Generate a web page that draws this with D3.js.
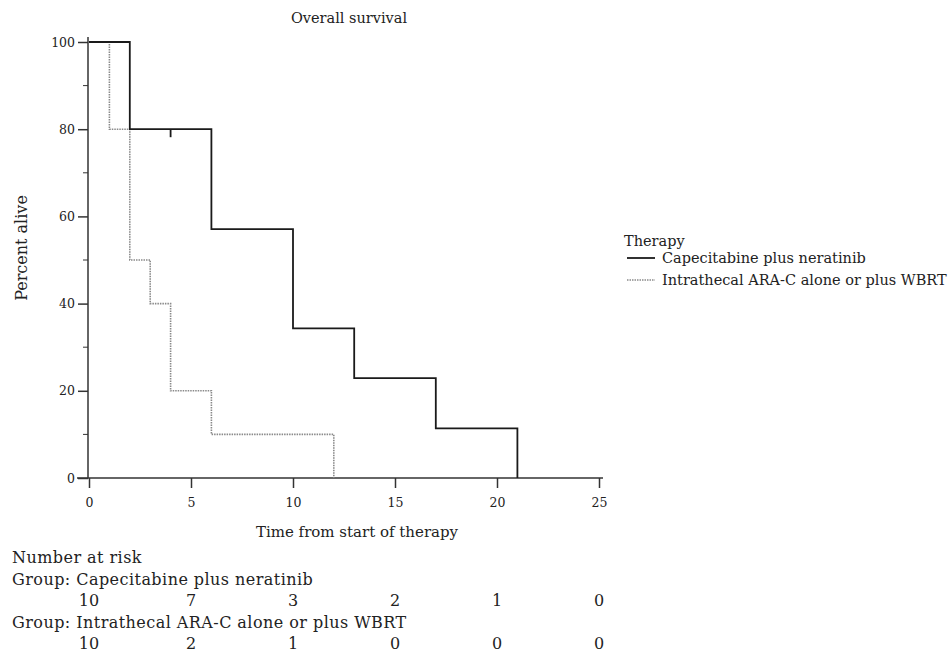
<!DOCTYPE html>
<html>
<head>
<meta charset="utf-8">
<script src="https://cdn.jsdelivr.net/npm/d3@7"></script>
<style>
  body { margin: 0; background: #fff; }
  svg text { font-family: "DejaVu Serif", "Liberation Serif", serif; fill: #222; }
</style>
</head>
<body>
<div class="km-chart-container"></div>
<script>
// Overall survival - Kaplan-Meier
var groups = ["Capecitabine plus neratinib", "Intrathecal ARA-C alone or plus WBRT"];

// step points: time, percent alive
var timesCap = [0, 2, 6, 10, 13, 17, 21];
var survCap = [100, 80, 57.1, 34.3, 22.9, 11.4, 0];
var censorCap = [{ t: 4, s: 80 }];

var timesIT = [0, 1, 2, 3, 4, 6, 12];
var survIT = [100, 80, 50, 40, 20, 10, 0];

var xTicks = [0, 5, 10, 15, 20, 25];
var yTicks = [0, 20, 40, 60, 80, 100];
var yMinor = [10, 30, 50, 70, 90];

var riskCap = [10, 7, 3, 2, 1, 0];
var riskIT = [10, 2, 1, 0, 0, 0];

var W = 950, H = 654;
var margin = { top: 42, left: 89 },
    widthKM = 510,
    heightKM = 436;

var svg = d3.select('.km-chart-container')
    .append('svg')
    .attr("width", W)
    .attr("height", H);

var g = svg.append("g")
    .attr("transform", "translate(" + margin.left + "," + margin.top + ")");

var x = d3.scaleLinear()
    .domain([0, 25])
    .range([0, widthKM]);

var y = d3.scaleLinear()
    .domain([0, 100])
    .range([heightKM, 0]);

// y axis
var yAxis = d3.axisLeft(y)
    .tickValues(yTicks)
    .tickSize(10)
    .tickPadding(3)
    .tickFormat(d3.format("d"));

var gy = g.append("g")
    .attr("transform", "translate(-1,0)")
    .call(yAxis);
gy.select(".domain").attr("d", "M0," + (heightKM) + "V-5");
gy.selectAll(".tick text").style("font-size", "12.5px");

gy.selectAll(".minor")
    .data(yMinor)
    .enter().append("line")
    .attr("class", "minor")
    .attr("x1", -5).attr("x2", 0)
    .attr("y1", function(d) { return y(d); })
    .attr("y2", function(d) { return y(d); })
    .attr("stroke", "#333");

// x axis
var xAxis = d3.axisBottom(x)
    .tickValues(xTicks)
    .tickSize(10)
    .tickPadding(10)
    .tickFormat(d3.format("d"));

var gx = g.append("g")
    .attr("transform", "translate(0," + heightKM + ")")
    .call(xAxis);
gx.select(".domain").attr("d", "M-12,0H" + (widthKM + 4));
gx.selectAll(".tick text").style("font-size", "12.5px");

svg.selectAll(".domain, .tick line").attr("stroke", "#333").attr("stroke-width", 1.5);

// curves
var line = d3.line()
    .x(function(d) { return x(d[0]); })
    .y(function(d) { return y(d[1]); })
    .curve(d3.curveStepAfter);

function pts(times, surv) {
    return times.map(function(t, i) { return [t, surv[i]]; });
}

g.append("path")
    .datum(pts(timesIT, survIT))
    .attr("d", line)
    .attr("fill", "none")
    .attr("stroke", "#8a8a8a")
    .attr("stroke-width", 1.6)
    .attr("stroke-dasharray", "1.5,1");

g.append("path")
    .datum(pts(timesCap, survCap))
    .attr("d", line)
    .attr("fill", "none")
    .attr("stroke", "#1a1a1a")
    .attr("stroke-width", 1.8);

g.selectAll(".censor")
    .data(censorCap)
    .enter().append("line")
    .attr("class", "censor")
    .attr("x1", function(d) { return x(d.t); })
    .attr("x2", function(d) { return x(d.t); })
    .attr("y1", function(d) { return y(d.s); })
    .attr("y2", function(d) { return y(d.s) + 8; })
    .attr("stroke", "#1a1a1a")
    .attr("stroke-width", 1.8);

// titles
svg.append("text")
    .attr("x", 349).attr("y", 23)
    .attr("text-anchor", "middle")
    .style("font-size", "14.5px")
    .text("Overall survival");

svg.append("text")
    .attr("transform", "translate(27,248) rotate(-90)")
    .attr("text-anchor", "middle")
    .style("font-size", "16px")
    .text("Percent alive");

svg.append("text")
    .attr("x", 357).attr("y", 537)
    .attr("text-anchor", "middle")
    .style("font-size", "15px")
    .text("Time from start of therapy");

// legend
var legend = svg.append("g").attr("transform", "translate(624,0)");
legend.append("text")
    .attr("x", 0).attr("y", 246)
    .style("font-size", "14.5px")
    .text("Therapy");

var legStyles = [
    { stroke: "#1a1a1a", dash: null, w: 1.8 },
    { stroke: "#8a8a8a", dash: "1.5,1", w: 1.6 }
];
groups.forEach(function(name, i) {
    var yy = 258 + i * 22;
    legend.append("line")
        .attr("x1", 3).attr("x2", 31)
        .attr("y1", yy).attr("y2", yy)
        .attr("stroke", legStyles[i].stroke)
        .attr("stroke-width", legStyles[i].w)
        .attr("stroke-dasharray", legStyles[i].dash);
    legend.append("text")
        .attr("x", 38).attr("y", yy + 5)
        .style("font-size", "14.5px")
        .text(name);
});

// number at risk table
var riskFont = "16px";
svg.append("text")
    .attr("x", 12).attr("y", 563)
    .style("font-size", riskFont)
    .style("letter-spacing", "0.45px")
    .text("Number at risk");

var riskRows = [riskCap, riskIT];
var rowY = [585, 628];
riskRows.forEach(function(row, i) {
    var yy = rowY[i];
    svg.append("text")
        .attr("x", 12).attr("y", yy)
        .style("font-size", riskFont)
        .style("letter-spacing", "0.45px")
        .text("Group: " + groups[i]);
    svg.selectAll(".risk" + i)
        .data(row)
        .enter().append("text")
        .attr("class", "risk" + i)
        .attr("x", function(d, j) { return margin.left + x(xTicks[j]); })
        .attr("y", yy + 21)
        .attr("text-anchor", "middle")
        .style("font-size", riskFont)
        .text(function(d) { return d; });
});
</script>
</body>
</html>
